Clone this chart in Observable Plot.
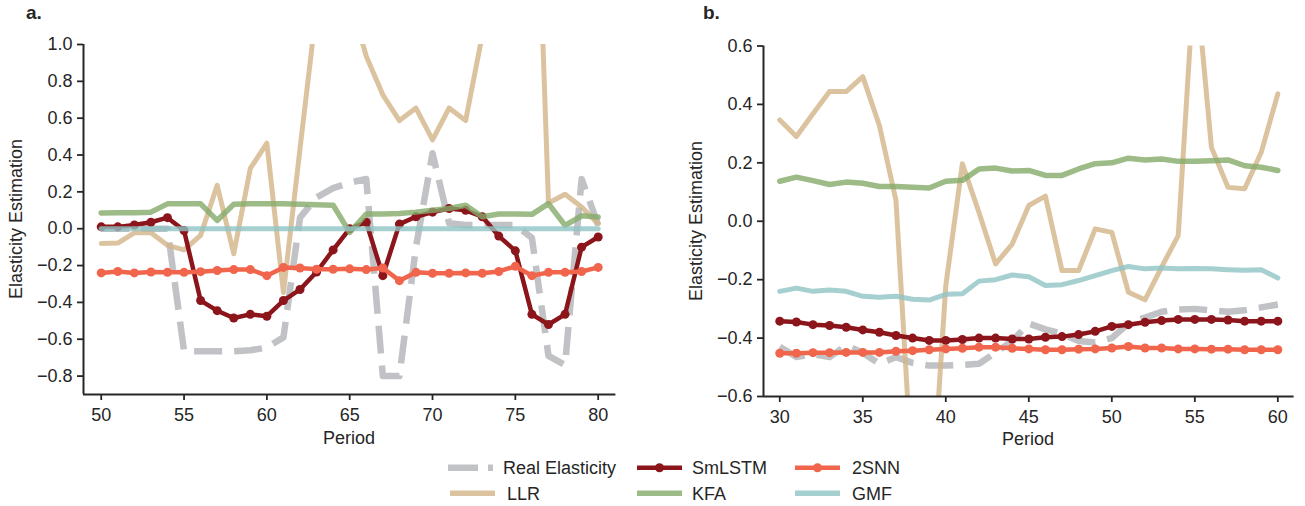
<!DOCTYPE html>
<html>
<head>
<meta charset="utf-8">
<script src="https://cdn.jsdelivr.net/npm/d3@7"></script>
<script src="https://cdn.jsdelivr.net/npm/@observablehq/plot@0.6"></script>
<style>
  html, body { margin: 0; padding: 0; background: #fff; }
  #root { position: relative; width: 1305px; height: 506px; font-family: "Liberation Sans", Arial, sans-serif; color: #262626; }
  .abs { position: absolute; }
  .panel-tag { font-weight: bold; font-size: 19px; }
  .ylab { font-size: 18px; transform-origin: center center; white-space: nowrap; }
  .xlab { font-size: 18px; white-space: nowrap; }
</style>
</head>
<body>
<div id="root"></div>
<script>
// ---------------- data ----------------
const seriesNames = ["Real Elasticity", "LLR", "SmLSTM", "KFA", "2SNN", "GMF"];

// Panel a: periods 50..80
const periodsA = [50,51,52,53,54,55,56,57,58,59,60,61,62,63,64,65,66,67,68,69,70,71,72,73,74,75,76,77,78,79,80];
const realA   = [0, 0, 0, 0, 0, -0.665, -0.665, -0.665, -0.665, -0.66, -0.645, -0.59, 0.06, 0.17, 0.22, 0.25, 0.27, -0.8, -0.8, -0.1, 0.41, 0.03, 0.02, 0.02, 0.02, 0.02, -0.05, -0.69, -0.74, 0.27, 0.02];
const llrA    = [-0.08, -0.078, -0.022, -0.022, -0.09, -0.115, -0.036, 0.236, -0.136, 0.327, 0.464, -0.346, 0.434, 1.2, 1.6, 1.25, 0.936, 0.727, 0.587, 0.655, 0.482, 0.655, 0.587, 1.05, 1.8, 2.4, 2.72, 0.14, 0.187, 0.118, 0.027];
const smlstmA = [0.01, 0.01, 0.02, 0.035, 0.06, -0.01, -0.39, -0.445, -0.485, -0.465, -0.475, -0.39, -0.33, -0.235, -0.115, 0.0, 0.035, -0.255, 0.025, 0.065, 0.09, 0.11, 0.1, 0.065, -0.04, -0.12, -0.465, -0.52, -0.465, -0.1, -0.045];
const kfaA    = [0.085, 0.086, 0.087, 0.09, 0.135, 0.135, 0.135, 0.045, 0.133, 0.135, 0.136, 0.136, 0.133, 0.13, 0.128, -0.02, 0.08, 0.08, 0.082, 0.09, 0.1, 0.11, 0.127, 0.065, 0.08, 0.08, 0.078, 0.136, 0.018, 0.07, 0.063];
const snnA    = [-0.24, -0.232, -0.24, -0.235, -0.237, -0.237, -0.233, -0.227, -0.222, -0.222, -0.255, -0.21, -0.213, -0.22, -0.22, -0.218, -0.222, -0.213, -0.282, -0.237, -0.242, -0.242, -0.24, -0.242, -0.232, -0.204, -0.255, -0.237, -0.237, -0.232, -0.21];
const gmfA    = [0, 0, 0, 0, 0, 0, 0, 0, 0, 0, 0, 0, 0, 0, 0, 0, 0, 0, 0, 0, 0, 0, 0, 0, 0, 0, 0, 0, 0, 0, 0];

// Panel b: periods 30..60
const periodsB = [30,31,32,33,34,35,36,37,38,39,40,41,42,43,44,45,46,47,48,49,50,51,52,53,54,55,56,57,58,59,60];
const realB   = [-0.43, -0.465, -0.455, -0.465, -0.425, -0.45, -0.488, -0.465, -0.485, -0.494, -0.494, -0.492, -0.488, -0.45, -0.41, -0.35, -0.37, -0.385, -0.41, -0.415, -0.4, -0.35, -0.33, -0.31, -0.302, -0.3, -0.305, -0.31, -0.305, -0.295, -0.285];
const llrB    = [0.347, 0.29, 0.368, 0.444, 0.444, 0.495, 0.328, 0.071, -0.9, -1.1, -0.22, 0.197, 0.03, -0.146, -0.078, 0.054, 0.086, -0.169, -0.169, -0.026, -0.038, -0.243, -0.269, -0.157, -0.049, 0.87, 0.253, 0.116, 0.111, 0.236, 0.436];
const smlstmB = [-0.342, -0.345, -0.354, -0.357, -0.363, -0.372, -0.38, -0.391, -0.4, -0.408, -0.408, -0.405, -0.4, -0.4, -0.403, -0.403, -0.397, -0.395, -0.388, -0.377, -0.36, -0.354, -0.346, -0.34, -0.336, -0.336, -0.336, -0.338, -0.342, -0.342, -0.342];
const kfaB    = [0.137, 0.151, 0.139, 0.126, 0.134, 0.13, 0.119, 0.119, 0.116, 0.114, 0.137, 0.14, 0.179, 0.182, 0.172, 0.174, 0.157, 0.157, 0.179, 0.197, 0.2, 0.216, 0.21, 0.213, 0.205, 0.205, 0.207, 0.21, 0.19, 0.185, 0.174];
const snnB    = [-0.452, -0.452, -0.45, -0.45, -0.449, -0.449, -0.449, -0.445, -0.443, -0.44, -0.437, -0.435, -0.431, -0.431, -0.435, -0.437, -0.44, -0.44, -0.438, -0.437, -0.434, -0.429, -0.434, -0.434, -0.437, -0.437, -0.438, -0.438, -0.44, -0.44, -0.44];
const gmfB    = [-0.24, -0.229, -0.24, -0.235, -0.24, -0.257, -0.26, -0.257, -0.267, -0.27, -0.25, -0.248, -0.205, -0.2, -0.184, -0.19, -0.22, -0.217, -0.203, -0.186, -0.169, -0.155, -0.163, -0.16, -0.163, -0.162, -0.163, -0.166, -0.168, -0.166, -0.194];

// tick labels
const xTicksA = [50, 55, 60, 65, 70, 75, 80];
const yTicksA = [-0.8, -0.6, -0.4, -0.2, 0.0, 0.2, 0.4, 0.6, 0.8, 1.0];
const xTicksB = [30, 35, 40, 45, 50, 55, 60];
const yTicksB = [-0.6, -0.4, -0.2, 0.0, 0.2, 0.4, 0.6];

// ---------------- styles ----------------
const C = {
  real: "#b2b3b7", llr: "#d3b488", smlstm: "#8b151a", kfa: "#84aa69", snn: "#f0654b", gmf: "#90c3c4", axis: "#262626"
};
const FONT = "'Liberation Sans', Arial, sans-serif";

function rows(periods, vals) { return vals.map((v, i) => ({period: periods[i], value: v})); }

function panel(cfg) {
  const P = cfg.periods;
  const common = {x: "period", y: "value", clip: true};
  return Plot.plot({
    width: cfg.width, height: cfg.height,
    marginLeft: cfg.ml, marginRight: cfg.mr, marginTop: cfg.mt, marginBottom: cfg.mb,
    style: {fontSize: "18px", fontFamily: FONT, color: C.axis, background: "transparent", overflow: "visible"},
    x: {domain: cfg.xDomain},
    y: {domain: cfg.yDomain},
    marks: [
      Plot.line(rows(P, cfg.real), {...common, stroke: C.real, strokeWidth: 6.5, strokeOpacity: 0.8, strokeDasharray: "28,12", strokeLinecap: "butt"}),
      Plot.line(rows(P, cfg.llr), {...common, stroke: C.llr, strokeWidth: 5, strokeOpacity: 0.8}),
      Plot.line(rows(P, cfg.smlstm), {...common, stroke: C.smlstm, strokeWidth: 4.5}),
      Plot.dot(rows(P, cfg.smlstm), {...common, fill: C.smlstm, r: 4.5}),
      Plot.line(rows(P, cfg.kfa), {...common, stroke: C.kfa, strokeWidth: 5.5, strokeOpacity: 0.8}),
      Plot.line(rows(P, cfg.snn), {...common, stroke: C.snn, strokeWidth: 4.5}),
      Plot.dot(rows(P, cfg.snn), {...common, fill: C.snn, r: 4.5}),
      Plot.line(rows(P, cfg.gmf), {...common, stroke: C.gmf, strokeWidth: 5, strokeOpacity: 0.8}),
      Plot.ruleX([cfg.xDomain[0]], {stroke: C.axis, strokeWidth: 2}),
      Plot.ruleY([cfg.yDomain[0]], {stroke: C.axis, strokeWidth: 2}),
      Plot.axisX({ticks: cfg.xTicks, tickSize: 6, tickPadding: 8, strokeWidth: 1.8, label: null, fontSize: 18, tickFormat: d3.format("d")}),
      Plot.axisY({ticks: cfg.yTicks, tickSize: 6, tickPadding: 5, strokeWidth: 1.8, label: null, fontSize: 18, tickFormat: d3.format(".1f")})
    ]
  });
}

const root = document.getElementById("root");

function place(el, left, top) {
  el.classList.add("abs");
  el.style.left = left + "px";
  el.style.top = top + "px";
  root.appendChild(el);
}

const svgA = panel({
  periods: periodsA, real: realA, llr: llrA, smlstm: smlstmA, kfa: kfaA, snn: snnA, gmf: gmfA,
  width: 640, height: 450, ml: 83, mr: 24.6, mt: 44, mb: 56,
  xDomain: [48.93, 81.07], yDomain: [-0.9, 1.0], xTicks: xTicksA, yTicks: yTicksA
});
place(svgA, 0, 0);

const svgB = panel({
  periods: periodsB, real: realB, llr: llrB, smlstm: smlstmB, kfa: kfaB, snn: snnB, gmf: gmfB,
  width: 625, height: 450, ml: 83, mr: 11.4, mt: 45.5, mb: 54,
  xDomain: [29.02, 60.98], yDomain: [-0.6, 0.6], xTicks: xTicksB, yTicks: yTicksB
});
place(svgB, 680, 0);

// panel tags and axis labels
function textDiv(txt, cls, left, top, extra) {
  const d = document.createElement("div");
  d.textContent = txt;
  d.className = cls;
  place(d, left, top);
  if (extra) Object.assign(d.style, extra);
  return d;
}
textDiv("a.", "panel-tag", 26, 2);
textDiv("b.", "panel-tag", 703, 2);

function xLabel(txt, cx, cy) {
  const d = textDiv(txt, "xlab", cx, cy);
  d.style.transform = "translate(-50%, -50%)";
}
xLabel("Period", 349, 438);
xLabel("Period", 1028, 439);

function yLabel(txt, cx, cy) {
  const d = textDiv(txt, "ylab", cx, cy);
  d.style.transform = "translate(-50%, -50%) rotate(-90deg)";
}
yLabel("Elasticity Estimation", 16, 219);
yLabel("Elasticity Estimation", 696, 221);

// legend
const legendItems = [
  {name: seriesNames[0], color: C.real, x0: 448, tx: 503, row: 0, dash: "30,10", w: 6.5, op: 0.8},
  {name: seriesNames[1], color: C.llr, x0: 450, tx: 507, row: 1, w: 5.5, op: 0.8},
  {name: seriesNames[2], color: C.smlstm, x0: 637, tx: 692, row: 0, w: 4.5, dot: true},
  {name: seriesNames[3], color: C.kfa, x0: 637, tx: 692, row: 1, w: 5.5, op: 0.8},
  {name: seriesNames[4], color: C.snn, x0: 795, tx: 852, row: 0, w: 4.5, dot: true},
  {name: seriesNames[5], color: C.gmf, x0: 795, tx: 852, row: 1, w: 5.5, op: 0.8}
];
const rowY = [467.7, 493.3];
const lsvg = d3.create("svg").attr("width", 1305).attr("height", 506)
  .style("position", "absolute").style("left", "0px").style("top", "0px").style("pointer-events", "none");
for (const it of legendItems) {
  const y = rowY[it.row];
  const len = 45;
  lsvg.append("line").attr("x1", it.x0).attr("x2", it.x0 + len).attr("y1", y).attr("y2", y)
    .attr("stroke", it.color).attr("stroke-width", it.w).attr("stroke-opacity", it.op || 1)
    .attr("stroke-dasharray", it.dash || null).attr("stroke-linecap", "butt");
  if (it.dot) lsvg.append("circle").attr("cx", it.x0 + len / 2).attr("cy", y).attr("r", 4.5).attr("fill", it.color);
  lsvg.append("text").attr("x", it.tx).attr("y", y).attr("dy", "0.35em")
    .attr("font-size", 18).attr("font-family", FONT).attr("fill", C.axis).text(it.name);
}
root.appendChild(lsvg.node());
</script>
</body>
</html>
